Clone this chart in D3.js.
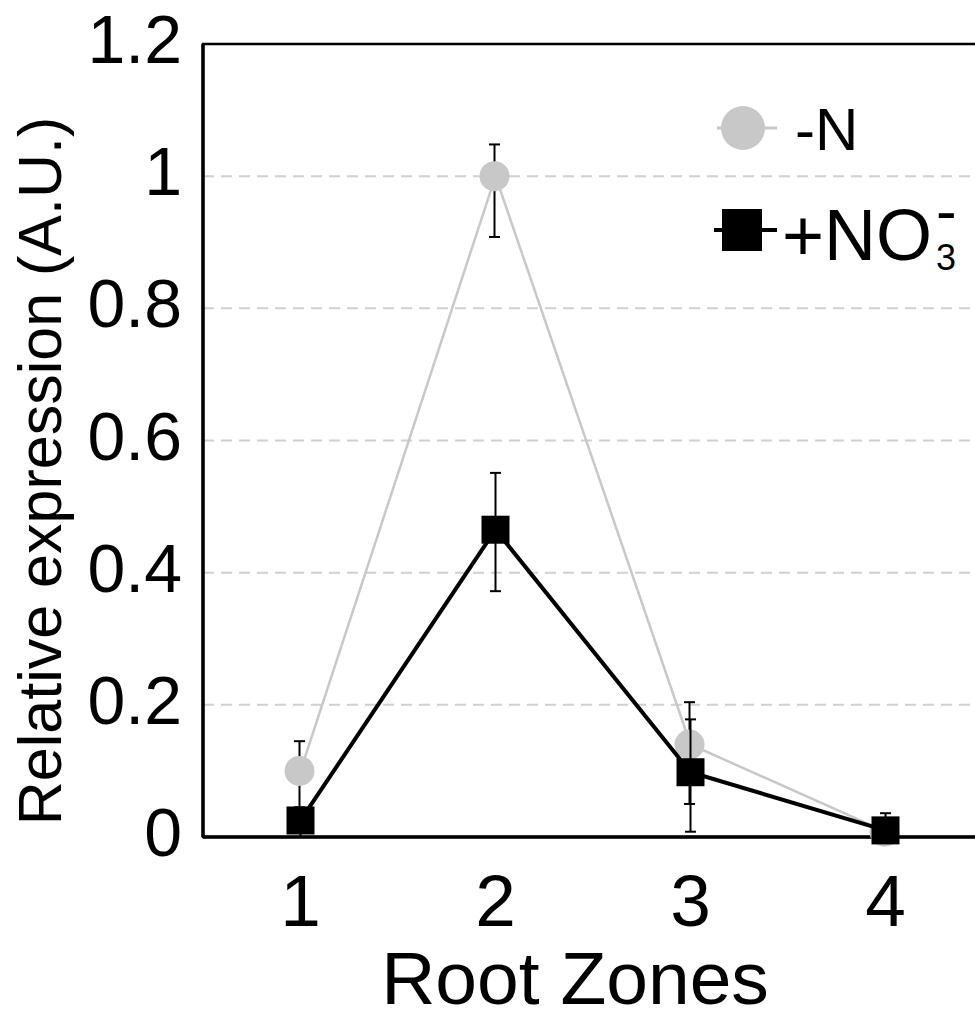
<!DOCTYPE html>
<html>
<head>
<meta charset="utf-8">
<script src="https://cdn.jsdelivr.net/npm/d3@7"></script>
<style>
  body { margin: 0; background: #fff; }
  text { font-family: "Liberation Sans", Arial, sans-serif; fill: #000; }
</style>
</head>
<body>
<svg id="chart"></svg>
<script>
// Data
var zones = ["1", "2", "3", "4"];
var minusN = [0.10, 1.00, 0.14, 0.008];
var minusNLow = [0.045, 0.908, 0.05, 0.0];
var minusNHigh = [0.145, 1.048, 0.204, 0.015];
var nitrate = [0.025, 0.465, 0.098, 0.01];
var nitrateLow = [0.0, 0.372, 0.008, 0.0];
var nitrateHigh = [0.04, 0.551, 0.178, 0.036];
var yTicks = [0, 0.2, 0.4, 0.6, 0.8, 1, 1.2];

var width = 975, height = 1021;
var margin = { top: 44, right: -8, bottom: 184, left: 203 };
var grey = "#c8c8c8";

var svg = d3.select("#chart")
    .attr("width", width)
    .attr("height", height);

var x = d3.scalePoint()
    .domain(zones)
    .range([margin.left, width - margin.right])
    .padding(0.5);

var y = d3.scaleLinear()
    .domain([0, 1.2])
    .range([height - margin.bottom, margin.top]);

// dashed gridlines
svg.append("g")
    .selectAll("line")
    .data(yTicks.filter(function(d) { return d > 0 && d < 1.2; }))
    .enter().append("line")
    .attr("x1", margin.left)
    .attr("x2", width - margin.right)
    .attr("y1", function(d) { return y(d); })
    .attr("y2", function(d) { return y(d); })
    .style("stroke", "#d0d0d0")
    .style("stroke-width", 2)
    .style("stroke-dasharray", "11,7");

// frame
svg.append("rect")
    .attr("x", margin.left)
    .attr("y", y(1.2))
    .attr("width", width - margin.right - margin.left)
    .attr("height", y(0) - y(1.2))
    .style("fill", "none")
    .style("stroke", "#000")
    .style("stroke-width", 2.5);

svg.append("line")
    .attr("x1", margin.left).attr("x2", margin.left)
    .attr("y1", y(1.2)).attr("y2", y(0))
    .style("stroke", "#000").style("stroke-width", 3.5);
svg.append("line")
    .attr("x1", margin.left).attr("x2", width)
    .attr("y1", y(0)).attr("y2", y(0))
    .style("stroke", "#000").style("stroke-width", 3.5);

// y tick labels
svg.append("g")
    .selectAll("text")
    .data(yTicks)
    .enter().append("text")
    .attr("x", 182)
    .attr("y", function(d) { return y(d); })
    .attr("dy", "0.28em")
    .style("text-anchor", "end")
    .style("font-size", "68px")
    .text(function(d) { return d3.format("")(d); });

// x tick labels
svg.append("g")
    .selectAll("text")
    .data(zones)
    .enter().append("text")
    .attr("x", function(d) { return x(d); })
    .attr("y", 926)
    .style("text-anchor", "middle")
    .style("font-size", "73px")
    .text(function(d) { return d; });

// axis titles
svg.append("text")
    .attr("transform", "translate(61," + 471 + ") rotate(-90)")
    .style("text-anchor", "middle")
    .style("font-size", "61px")
    .text("Relative expression (A.U.)");

svg.append("text")
    .attr("x", 575)
    .attr("y", 1004)
    .style("text-anchor", "middle")
    .style("font-size", "75px")
    .text("Root Zones");

var line = d3.line()
    .x(function(d, i) { return x(zones[i]); })
    .y(function(d) { return y(d); });

function errorBars(values, low, high, offset) {
    var g = svg.append("g");
    values.forEach(function(v, i) {
        var cx = x(zones[i]) + offset;
        g.append("line")
            .attr("x1", cx).attr("x2", cx)
            .attr("y1", y(low[i])).attr("y2", y(high[i]))
            .style("stroke", "#000").style("stroke-width", 2);
        [low[i], high[i]].forEach(function(e) {
            g.append("line")
                .attr("x1", cx - 5.5).attr("x2", cx + 5.5)
                .attr("y1", y(e)).attr("y2", y(e))
                .style("stroke", "#000").style("stroke-width", 2);
        });
    });
}

// -N series
errorBars(minusN, minusNLow, minusNHigh, -1);
svg.append("path")
    .datum(minusN)
    .attr("d", line)
    .style("fill", "none")
    .style("stroke", grey)
    .style("stroke-width", 2.5);
svg.append("g")
    .selectAll("circle")
    .data(minusN)
    .enter().append("circle")
    .attr("cx", function(d, i) { return x(zones[i]) - 1; })
    .attr("cy", function(d) { return y(d); })
    .attr("r", 15)
    .style("fill", grey);

// +NO3- series
errorBars(nitrate, nitrateLow, nitrateHigh, 0);
svg.append("path")
    .datum(nitrate)
    .attr("d", line)
    .style("fill", "none")
    .style("stroke", "#000")
    .style("stroke-width", 4);
svg.append("g")
    .selectAll("rect")
    .data(nitrate)
    .enter().append("rect")
    .attr("x", function(d, i) { return x(zones[i]) - 14; })
    .attr("y", function(d) { return y(d) - 14; })
    .attr("width", 28)
    .attr("height", 28)
    .style("fill", "#000");

// legend
var legend = svg.append("g");
legend.append("line")
    .attr("x1", 717).attr("x2", 777).attr("y1", 128).attr("y2", 128)
    .style("stroke", grey).style("stroke-width", 3);
legend.append("circle")
    .attr("cx", 743).attr("cy", 128).attr("r", 22)
    .style("fill", grey);
legend.append("text")
    .attr("x", 795).attr("y", 150)
    .style("font-size", "60px")
    .text("-N");

legend.append("line")
    .attr("x1", 714).attr("x2", 777).attr("y1", 230).attr("y2", 230)
    .style("stroke", "#000").style("stroke-width", 4);
legend.append("rect")
    .attr("x", 722).attr("y", 209).attr("width", 40).attr("height", 42)
    .style("fill", "#000");
var lt = legend.append("text")
    .attr("x", 782).attr("y", 260)
    .style("font-size", "72px")
    .text("+NO");
lt.append("tspan")
    .attr("x", 936).attr("y", 270)
    .style("font-size", "36px")
    .text("3");
lt.append("tspan")
    .attr("x", 936).attr("y", 232)
    .style("font-size", "62px")
    .text("-");
</script>
</body>
</html>
